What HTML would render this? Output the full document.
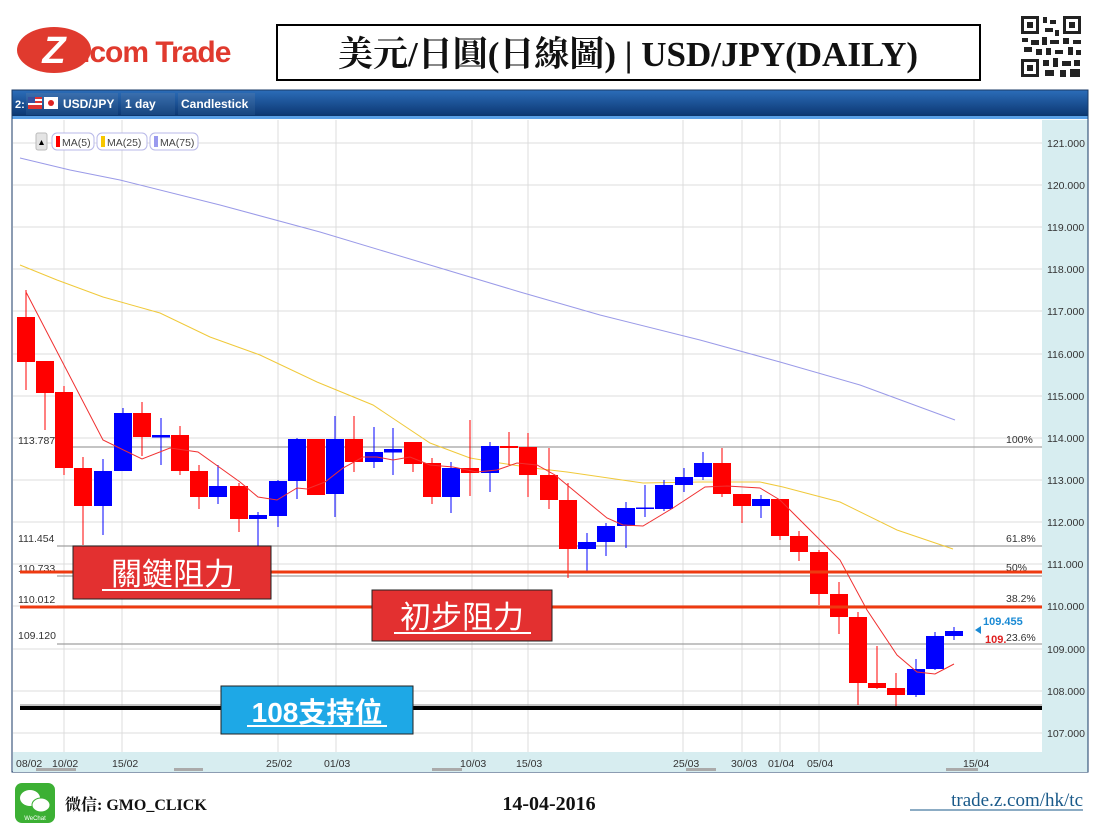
<!DOCTYPE html>
<html><head><meta charset="utf-8"><style>
html,body{margin:0;padding:0;background:#fff;width:1105px;height:826px;overflow:hidden}
svg{display:block}
</style></head><body>
<svg width="1105" height="826" viewBox="0 0 1105 826" xmlns="http://www.w3.org/2000/svg" font-family="Liberation Sans, sans-serif">
<defs>
<linearGradient id="tb" x1="0" y1="0" x2="0" y2="1"><stop offset="0" stop-color="#2b6cb8"/><stop offset="0.85" stop-color="#0f3c78"/><stop offset="1" stop-color="#0a2f63"/></linearGradient>
<linearGradient id="bt" x1="0" y1="0" x2="0" y2="1"><stop offset="0" stop-color="#3a6fae"/><stop offset="1" stop-color="#17457f"/></linearGradient>
</defs>
<!-- Header -->
<ellipse cx="54" cy="50" rx="37" ry="23" fill="#e03a2e"/>
<text x="54" y="63" font-size="38" font-weight="bold" fill="#fff" text-anchor="middle" font-style="italic">Z</text>
<text x="82" y="62" font-size="30" font-weight="bold" fill="#e03a2e" letter-spacing="-1">.com Trade</text>
<rect x="277" y="25" width="703" height="55" fill="#fff" stroke="#000" stroke-width="2"/>
<text x="628" y="66" font-size="35" font-weight="bold" text-anchor="middle" fill="#111" font-family="Liberation Serif, Noto Serif CJK SC, serif">美元/日圓(日線圖) | USD/JPY(DAILY)</text>
<!-- QR -->
<g fill="#222">
<rect x="1020" y="15" width="62" height="63" fill="#fff"/>
<rect x="1021" y="16" width="18" height="18"/><rect x="1024" y="19" width="12" height="12" fill="#fff"/><rect x="1027" y="22" width="6" height="6"/>
<rect x="1063" y="16" width="18" height="18"/><rect x="1066" y="19" width="12" height="12" fill="#fff"/><rect x="1069" y="22" width="6" height="6"/>
<rect x="1021" y="59" width="18" height="18"/><rect x="1024" y="62" width="12" height="12" fill="#fff"/><rect x="1027" y="65" width="6" height="6"/>
<rect x="1043" y="17" width="4" height="6"/><rect x="1050" y="20" width="6" height="4"/><rect x="1045" y="28" width="8" height="4"/><rect x="1055" y="30" width="4" height="6"/>
<rect x="1022" y="38" width="6" height="4"/><rect x="1031" y="40" width="8" height="5"/><rect x="1042" y="37" width="5" height="8"/><rect x="1050" y="40" width="9" height="4"/><rect x="1063" y="38" width="6" height="6"/><rect x="1073" y="40" width="8" height="4"/>
<rect x="1024" y="47" width="8" height="5"/><rect x="1036" y="49" width="6" height="6"/><rect x="1046" y="48" width="5" height="7"/><rect x="1055" y="50" width="8" height="4"/><rect x="1068" y="47" width="5" height="8"/><rect x="1076" y="50" width="5" height="5"/>
<rect x="1043" y="60" width="6" height="6"/><rect x="1053" y="58" width="5" height="9"/><rect x="1062" y="61" width="9" height="5"/><rect x="1074" y="60" width="6" height="6"/><rect x="1045" y="70" width="9" height="6"/><rect x="1060" y="70" width="6" height="7"/><rect x="1070" y="69" width="10" height="8"/>
</g>
<!-- Chart frame -->
<rect x="12" y="90" width="1076" height="682" fill="#fff" stroke="#1a3a66" stroke-width="1"/>
<rect x="12.5" y="90.5" width="1075" height="27" fill="url(#tb)"/>
<rect x="12.5" y="116" width="1075" height="3" fill="#5aa0e6"/>
<text x="15" y="108" font-size="11" font-weight="bold" fill="#fff">2:</text>
<rect x="26" y="93" width="92" height="22" fill="url(#bt)"/>
<rect x="28" y="97" width="14" height="12" fill="#d33"/><rect x="28" y="99" width="14" height="2" fill="#fff"/><rect x="28" y="103" width="14" height="2" fill="#fff"/><rect x="28" y="97" width="7" height="6" fill="#3550a0"/>
<rect x="44" y="97" width="14" height="12" fill="#fff"/><circle cx="51" cy="103" r="3" fill="#d22"/>
<text x="63" y="108" font-size="12" font-weight="bold" fill="#fff">USD/JPY</text>
<rect x="121" y="93" width="54" height="22" fill="url(#bt)"/>
<text x="125" y="108" font-size="12" font-weight="bold" fill="#fff">1 day</text>
<rect x="178" y="93" width="77" height="22" fill="url(#bt)"/>
<text x="181" y="108" font-size="12" font-weight="bold" fill="#fff">Candlestick</text>
<!-- axes backgrounds -->
<rect x="1042" y="120" width="45.5" height="652" fill="#d7edf0"/>
<rect x="13" y="752" width="1029" height="20" fill="#d7edf0"/>
<g fill="#aaa"><rect x="36" y="768" width="40" height="3"/><rect x="174" y="768" width="29" height="3"/><rect x="432" y="768" width="30" height="3"/><rect x="686" y="768" width="30" height="3"/><rect x="946" y="768" width="32" height="3"/></g>
<!-- grid -->
<g stroke="#dcdcdc" stroke-width="1">
<line x1="13" y1="143" x2="1042" y2="143"/><line x1="13" y1="185" x2="1042" y2="185"/><line x1="13" y1="227" x2="1042" y2="227"/><line x1="13" y1="269" x2="1042" y2="269"/><line x1="13" y1="311" x2="1042" y2="311"/><line x1="13" y1="354" x2="1042" y2="354"/><line x1="13" y1="396" x2="1042" y2="396"/><line x1="13" y1="438" x2="1042" y2="438"/><line x1="13" y1="480" x2="1042" y2="480"/><line x1="13" y1="522" x2="1042" y2="522"/><line x1="13" y1="564" x2="1042" y2="564"/><line x1="13" y1="606" x2="1042" y2="606"/><line x1="13" y1="649" x2="1042" y2="649"/><line x1="13" y1="691" x2="1042" y2="691"/><line x1="13" y1="733" x2="1042" y2="733"/>
<line x1="64" y1="120" x2="64" y2="752"/><line x1="122" y1="120" x2="122" y2="752"/><line x1="278" y1="120" x2="278" y2="752"/><line x1="336" y1="120" x2="336" y2="752"/><line x1="472" y1="120" x2="472" y2="752"/><line x1="528" y1="120" x2="528" y2="752"/><line x1="683" y1="120" x2="683" y2="752"/><line x1="742" y1="120" x2="742" y2="752"/><line x1="780" y1="120" x2="780" y2="752"/><line x1="819" y1="120" x2="819" y2="752"/><line x1="974" y1="120" x2="974" y2="752"/>
</g>
<!-- y labels -->
<g font-size="10.5" fill="#333">
<text x="1047" y="147">121.000</text><text x="1047" y="189">120.000</text><text x="1047" y="231">119.000</text><text x="1047" y="273">118.000</text><text x="1047" y="315">117.000</text><text x="1047" y="358">116.000</text><text x="1047" y="400">115.000</text><text x="1047" y="442">114.000</text><text x="1047" y="484">113.000</text><text x="1047" y="526">112.000</text><text x="1047" y="568">111.000</text><text x="1047" y="610">110.000</text><text x="1047" y="653">109.000</text><text x="1047" y="695">108.000</text><text x="1047" y="737">107.000</text>
</g>
<!-- x labels -->
<g font-size="10.5" fill="#333">
<text x="16" y="767">08/02</text><text x="52" y="767">10/02</text><text x="112" y="767">15/02</text><text x="266" y="767">25/02</text><text x="324" y="767">01/03</text><text x="460" y="767">10/03</text><text x="516" y="767">15/03</text><text x="673" y="767">25/03</text><text x="731" y="767">30/03</text><text x="768" y="767">01/04</text><text x="807" y="767">05/04</text><text x="963" y="767">15/04</text>
</g>
<!-- fib lines -->
<g stroke="#a0a0a0" stroke-width="1.3">
<line x1="57" y1="447" x2="1042" y2="447"/><line x1="57" y1="546" x2="1042" y2="546"/><line x1="57" y1="576" x2="1042" y2="576"/><line x1="57" y1="606" x2="1042" y2="606"/><line x1="57" y1="644" x2="1042" y2="644"/><line x1="20" y1="705" x2="1042" y2="705"/>
</g>
<g font-size="10.5" fill="#333">
<text x="18" y="444">113.787</text><text x="18" y="542">111.454</text><text x="18" y="572">110.733</text><text x="18" y="603">110.012</text><text x="18" y="639">109.120</text>
<text x="1006" y="443">100%</text><text x="1006" y="542">61.8%</text><text x="1006" y="571">50%</text><text x="1006" y="602">38.2%</text><text x="1006" y="641">23.6%</text>
</g>
<!-- MA lines -->
<polyline fill="none" stroke="#9a9ae8" stroke-width="1" points="20,158 70,170 120,180 220,205 320,232 420,262 520,292 600,315 700,340 780,362 860,385 955,420"/>
<polyline fill="none" stroke="#f0c93a" stroke-width="1" points="20,265 57,280 103,297 160,313 210,337 260,355 317,382 373,405 430,443 470,458 500,463 533,468 567,472 643,483 700,482 760,482 783,487 840,502 897,530 953,549"/>
<!-- candles -->
<g stroke-width="1">
<line x1="26" y1="290" x2="26" y2="390" stroke="#f00"/><rect x="17" y="317" width="18" height="45" fill="#f00"/>
<line x1="45" y1="361" x2="45" y2="430" stroke="#f00"/><rect x="36" y="361" width="18" height="32" fill="#f00"/>
<line x1="64" y1="386" x2="64" y2="475" stroke="#f00"/><rect x="55" y="392" width="18" height="76" fill="#f00"/>
<line x1="83" y1="457" x2="83" y2="545" stroke="#f00"/><rect x="74" y="468" width="18" height="38" fill="#f00"/>
<line x1="103" y1="459" x2="103" y2="535" stroke="#00f"/><rect x="94" y="471" width="18" height="35" fill="#00f"/>
<line x1="123" y1="408" x2="123" y2="471" stroke="#00f"/><rect x="114" y="413" width="18" height="58" fill="#00f"/>
<line x1="142" y1="402" x2="142" y2="456" stroke="#f00"/><rect x="133" y="413" width="18" height="24" fill="#f00"/>
<line x1="161" y1="418" x2="161" y2="465" stroke="#00f"/><rect x="152" y="435" width="18" height="2.5" fill="#00f"/>
<line x1="180" y1="426" x2="180" y2="475" stroke="#f00"/><rect x="171" y="435" width="18" height="36" fill="#f00"/>
<line x1="199" y1="465" x2="199" y2="509" stroke="#f00"/><rect x="190" y="471" width="18" height="26" fill="#f00"/>
<line x1="218" y1="465" x2="218" y2="504" stroke="#00f"/><rect x="209" y="486" width="18" height="11" fill="#00f"/>
<line x1="239" y1="483" x2="239" y2="532" stroke="#f00"/><rect x="230" y="486" width="18" height="33" fill="#f00"/>
<line x1="258" y1="512" x2="258" y2="547" stroke="#00f"/><rect x="249" y="515" width="18" height="4" fill="#00f"/>
<line x1="278" y1="480" x2="278" y2="527" stroke="#00f"/><rect x="269" y="481" width="18" height="35" fill="#00f"/>
<line x1="297" y1="438" x2="297" y2="499" stroke="#00f"/><rect x="288" y="439" width="18" height="42" fill="#00f"/>
<line x1="316" y1="439" x2="316" y2="495" stroke="#f00"/><rect x="307" y="439" width="18" height="56" fill="#f00"/>
<line x1="335" y1="416" x2="335" y2="517" stroke="#00f"/><rect x="326" y="439" width="18" height="55" fill="#00f"/>
<line x1="354" y1="416" x2="354" y2="472" stroke="#f00"/><rect x="345" y="439" width="18" height="23" fill="#f00"/>
<line x1="374" y1="427" x2="374" y2="468" stroke="#00f"/><rect x="365" y="452" width="18" height="10" fill="#00f"/>
<line x1="393" y1="428" x2="393" y2="475" stroke="#00f"/><rect x="384" y="449" width="18" height="3.5" fill="#00f"/>
<line x1="413" y1="442" x2="413" y2="472" stroke="#f00"/><rect x="404" y="442" width="18" height="22" fill="#f00"/>
<line x1="432" y1="458" x2="432" y2="504" stroke="#f00"/><rect x="423" y="463" width="18" height="34" fill="#f00"/>
<line x1="451" y1="462" x2="451" y2="513" stroke="#00f"/><rect x="442" y="468" width="18" height="29" fill="#00f"/>
<line x1="470" y1="420" x2="470" y2="496" stroke="#f00"/><rect x="461" y="468" width="18" height="5" fill="#f00"/>
<line x1="490" y1="442" x2="490" y2="492" stroke="#00f"/><rect x="481" y="446" width="18" height="27" fill="#00f"/>
<line x1="509" y1="432" x2="509" y2="465" stroke="#f00"/><rect x="500" y="446" width="18" height="2" fill="#f00"/>
<line x1="528" y1="433" x2="528" y2="497" stroke="#f00"/><rect x="519" y="447" width="18" height="28" fill="#f00"/>
<line x1="549" y1="448" x2="549" y2="509" stroke="#f00"/><rect x="540" y="475" width="18" height="25" fill="#f00"/>
<line x1="568" y1="483" x2="568" y2="578" stroke="#f00"/><rect x="559" y="500" width="18" height="49" fill="#f00"/>
<line x1="587" y1="533" x2="587" y2="571" stroke="#00f"/><rect x="578" y="542" width="18" height="7" fill="#00f"/>
<line x1="606" y1="523" x2="606" y2="556" stroke="#00f"/><rect x="597" y="526" width="18" height="16" fill="#00f"/>
<line x1="626" y1="502" x2="626" y2="548" stroke="#00f"/><rect x="617" y="508" width="18" height="18" fill="#00f"/>
<line x1="645" y1="485" x2="645" y2="517" stroke="#00f"/><rect x="636" y="507.5" width="18" height="1.5" fill="#00f"/>
<line x1="664" y1="480" x2="664" y2="511" stroke="#00f"/><rect x="655" y="485" width="18" height="24" fill="#00f"/>
<line x1="684" y1="468" x2="684" y2="492" stroke="#00f"/><rect x="675" y="477" width="18" height="8" fill="#00f"/>
<line x1="703" y1="452" x2="703" y2="480" stroke="#00f"/><rect x="694" y="463" width="18" height="14" fill="#00f"/>
<line x1="722" y1="448" x2="722" y2="497" stroke="#f00"/><rect x="713" y="463" width="18" height="31" fill="#f00"/>
<line x1="742" y1="494" x2="742" y2="523" stroke="#f00"/><rect x="733" y="494" width="18" height="12" fill="#f00"/>
<line x1="761" y1="495" x2="761" y2="518" stroke="#00f"/><rect x="752" y="499" width="18" height="7" fill="#00f"/>
<line x1="780" y1="499" x2="780" y2="540" stroke="#f00"/><rect x="771" y="499" width="18" height="37" fill="#f00"/>
<line x1="799" y1="531" x2="799" y2="561" stroke="#f00"/><rect x="790" y="536" width="18" height="16" fill="#f00"/>
<line x1="819" y1="550" x2="819" y2="605" stroke="#f00"/><rect x="810" y="552" width="18" height="42" fill="#f00"/>
<line x1="839" y1="582" x2="839" y2="634" stroke="#f00"/><rect x="830" y="594" width="18" height="23" fill="#f00"/>
<line x1="858" y1="612" x2="858" y2="705" stroke="#f00"/><rect x="849" y="617" width="18" height="66" fill="#f00"/>
<line x1="877" y1="646" x2="877" y2="689" stroke="#f00"/><rect x="868" y="683" width="18" height="5" fill="#f00"/>
<line x1="896" y1="673" x2="896" y2="708" stroke="#f00"/><rect x="887" y="688" width="18" height="7" fill="#f00"/>
<line x1="916" y1="659" x2="916" y2="697" stroke="#00f"/><rect x="907" y="669" width="18" height="26" fill="#00f"/>
<line x1="935" y1="632" x2="935" y2="670" stroke="#00f"/><rect x="926" y="636" width="18" height="33" fill="#00f"/>
<line x1="954" y1="627" x2="954" y2="640" stroke="#00f"/><rect x="945" y="631" width="18" height="5" fill="#00f"/>
</g>
<polyline fill="none" stroke="#f03030" stroke-width="1" points="26,292 103,440 142,459 170,448 198,452 240,482 258,497 277,500 297,488 307,489 325,482 343,468 363,457 377,457 393,460 410,457 430,465 453,467 477,472 497,470 517,463 537,465 555,475 607,518 623,525 643,526 673,508 705,487 727,486 760,488 780,500 800,520 820,540 840,560 867,610 897,655 917,672 935,674 954,664"/>
<!-- key levels -->
<line x1="20" y1="572" x2="1042" y2="572" stroke="#ee3a10" stroke-width="3"/>
<line x1="20" y1="607" x2="1042" y2="607" stroke="#ee3a10" stroke-width="3"/>
<line x1="20" y1="708" x2="1042" y2="708" stroke="#000" stroke-width="4"/>
<!-- price markers -->
<polygon points="975,630 981,626 981,634" fill="#1a8ad4"/>
<text x="983" y="625" font-size="11" font-weight="bold" fill="#1a8ad4">109.455</text>
<text x="985" y="643" font-size="11" font-weight="bold" fill="#e02020">109.</text>
<!-- legend -->
<rect x="36" y="133" width="11" height="17" rx="2" fill="#e4e4e4" stroke="#bbb"/><polygon points="39,145 44,145 41.5,140" fill="#000"/>
<rect x="52" y="133" width="42" height="17" rx="5" fill="#fff" stroke="#b8b8e8"/><rect x="56" y="136" width="4" height="11" fill="#f00"/><text x="62" y="146" font-size="10.5" fill="#444">MA(5)</text>
<rect x="97" y="133" width="50" height="17" rx="5" fill="#fff" stroke="#b8b8e8"/><rect x="101" y="136" width="4" height="11" fill="#f7c700"/><text x="107" y="146" font-size="10.5" fill="#444">MA(25)</text>
<rect x="150" y="133" width="48" height="17" rx="5" fill="#fff" stroke="#b8b8e8"/><rect x="154" y="136" width="4" height="11" fill="#9a9aee"/><text x="160" y="146" font-size="10.5" fill="#444">MA(75)</text>
<!-- annotation boxes -->
<rect x="73" y="546" width="198" height="53" fill="#e33030" stroke="#222" stroke-width="1"/>
<text x="173" y="585" font-size="31" fill="#fff" text-anchor="middle" font-family="Liberation Sans, Noto Sans CJK TC, sans-serif">關鍵阻力</text>
<line x1="102" y1="590" x2="240" y2="590" stroke="#fff" stroke-width="2"/>
<rect x="372" y="590" width="180" height="51" fill="#e33030" stroke="#222" stroke-width="1"/>
<text x="462" y="628" font-size="31" fill="#fff" text-anchor="middle" font-family="Liberation Sans, Noto Sans CJK TC, sans-serif">初步阻力</text>
<line x1="394" y1="633" x2="531" y2="633" stroke="#fff" stroke-width="2"/>
<rect x="221" y="686" width="192" height="48" fill="#1ea8e6" stroke="#222" stroke-width="1"/>
<text x="317" y="722" font-size="28" font-weight="bold" fill="#fff" text-anchor="middle" font-family="Liberation Sans, Noto Sans CJK TC, sans-serif">108支持位</text>
<line x1="247" y1="726" x2="387" y2="726" stroke="#fff" stroke-width="2"/>
<!-- footer -->
<rect x="15" y="783" width="40" height="40" rx="7" fill="#3cb034"/>
<ellipse cx="30" cy="798" rx="10" ry="8" fill="#fff"/><ellipse cx="41" cy="805" rx="9" ry="7" fill="#fff" stroke="#3cb034" stroke-width="1"/>
<text x="35" y="820" font-size="6" fill="#fff" text-anchor="middle">WeChat</text>
<text x="65" y="810" font-size="16" font-weight="bold" fill="#111" font-family="Liberation Serif, Noto Serif CJK SC, serif">微信: GMO_CLICK</text>
<text x="549" y="810" font-size="20" font-weight="bold" fill="#111" text-anchor="middle" font-family="Liberation Serif, serif">14-04-2016</text>
<text x="1083" y="806" font-size="19" fill="#1a5a8a" text-anchor="end" font-family="Liberation Serif, serif">trade.z.com/hk/tc</text>
<line x1="910" y1="810" x2="1083" y2="810" stroke="#1a5a8a" stroke-width="1"/>
</svg>
</body></html>
